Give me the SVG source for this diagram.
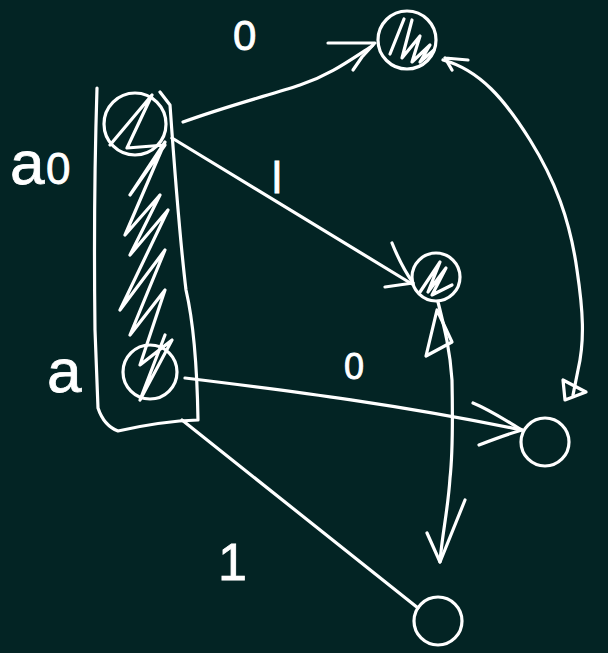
<svg xmlns="http://www.w3.org/2000/svg" width="608" height="653" viewBox="0 0 608 653">
<style>
.s{fill:none;stroke:#ffffff;stroke-width:3.2;stroke-linecap:round;stroke-linejoin:round}
.t{fill:#ffffff;font-family:"Liberation Sans",Arial,sans-serif;stroke:#ffffff;stroke-width:0.8}
</style>
<rect width="608" height="653" fill="#032424"/>
<g id="state-group">
<path class="s" d="M97,88 C95,150 94,250 95,330 C96,360 97,385 98,408 C102,420 110,428 118,431 C140,426 165,421 198,420 C197,360 193,320 186,290 C180,240 176,190 170,105 L160,92"/>
<circle class="s" cx="135" cy="124" r="31"/>
<circle class="s" cx="150" cy="372" r="27"/>
<path class="s" d="M110,145 L152,95 L127,148 L165,145 L130,195 L165,142 L125,235 L160,195 L130,255 L168,210 L120,310 L165,250 L130,335 L165,290 L140,365 L172,340 L140,400 L165,335"/>
</g>
<g id="node-top">
<circle class="s" cx="407" cy="40" r="29"/>
<path class="s" d="M404,19 L390,54 M412,20 L402,58 L420,36 L412,62 L430,45 L420,62 L434,50"/>
</g>
<g id="node-mid">
<circle class="s" cx="436" cy="277" r="24"/>
<path class="s" d="M420,292 L440,262 L428,292 L446,268 L432,295 L452,285"/>
</g>
<g id="node-right">
<circle class="s" cx="545" cy="442" r="24"/>
</g>
<g id="node-bottom">
<circle class="s" cx="438" cy="621" r="24"/>
</g>
<g id="connectors">
<path class="s" d="M183,122 C230,105 270,95 300,85 C330,75 350,60 372,46"/>
<path class="s" d="M328,43 L375,43 M353,70 L362,57 L374,44"/>
<path class="s" d="M443,60 C480,70 505,100 530,140 C555,180 570,220 577,270 C583,310 585,340 578,370 L573,395"/>
<path class="s" d="M445,58 L452,70 M445,58 L468,60 M563,380 L565,400 L586,392 Z"/>
<path class="s" d="M172,138 L412,284"/>
<path class="s" d="M392,243 C398,258 404,270 413,283 L385,287"/>
<path class="s" d="M438,302 C445,330 450,350 452,380 C453,430 452,460 450,478 C448,510 442,535 440,562"/>
<path class="s" d="M437,310 L452,342 L426,356 Z"/>
<path class="s" d="M427,533 L440,562 L465,500"/>
<path class="s" d="M185,378 C300,392 400,405 522,430"/>
<path class="s" d="M473,403 C490,410 505,420 522,430 C508,434 492,440 479,445"/>
<path class="s" d="M182,420 L418,608"/>
</g>
<g id="labels">
<text class="t" x="233" y="50" font-size="42">0</text>
<text class="t" x="272" y="193" font-size="44">l</text>
<text class="t" x="344" y="379" font-size="36">0</text>
<text class="t" x="218" y="580" font-size="52">1</text>
<text class="t" x="10" y="184" font-size="62">a</text>
<text class="t" x="46" y="184" font-size="44">0</text>
<text class="t" x="47" y="392" font-size="62">a</text>
</g>
</svg>
